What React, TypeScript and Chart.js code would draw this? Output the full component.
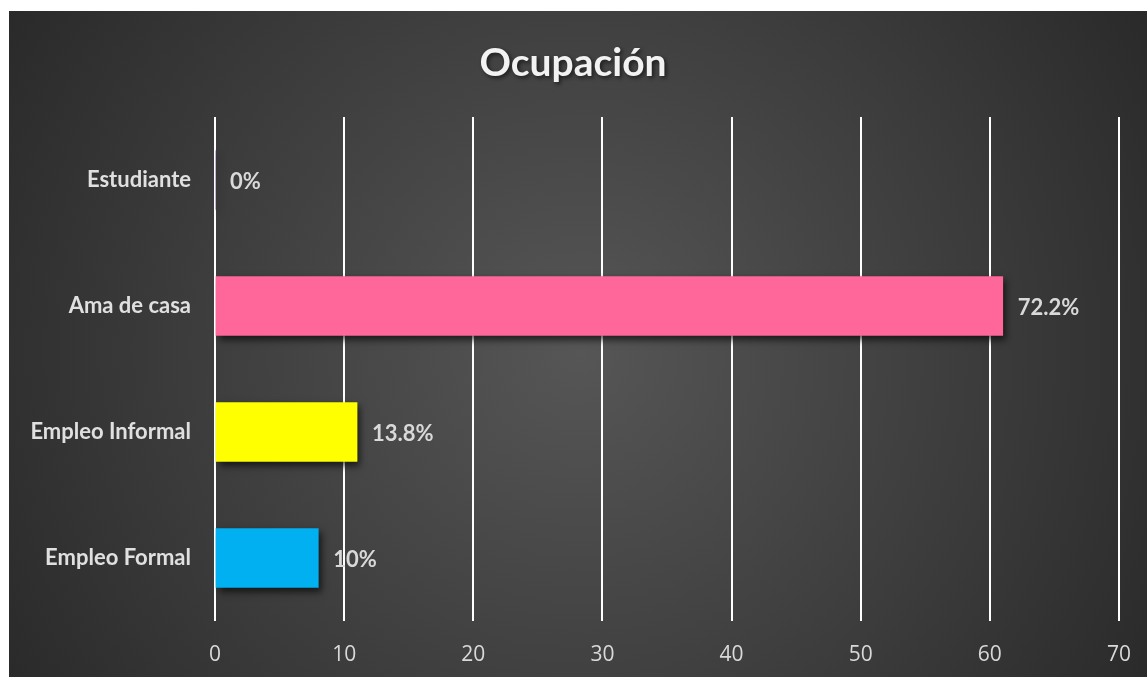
import React, { useEffect, useRef } from "react";
import { Chart, registerables } from "chart.js";

Chart.register(...registerables);

const categories = ["Estudiante", "Ama de casa", "Empleo Informal", "Empleo Formal"];
const values = [0, 61, 11, 8];
const valueLabels = ["0%", "72.2%", "13.8%", "10%"];
const barColors = ["#7030A0", "#FF6699", "#FFFF00", "#00B0F0"];
const xTicks = [0, 10, 20, 30, 40, 50, 60, 70];
const titleText = "Ocupación";

const W = 1138;
const H = 666;
const LABEL_FONT = "Lato";
const TICK_FONT = "Open Sans";

const bgPlugin = {
  id: "bg",
  beforeDraw(chart: any) {
    const { ctx } = chart;
    ctx.save();
    const g = ctx.createRadialGradient(570, 340, 0, 570, 340, 720);
    g.addColorStop(0, "#565656");
    g.addColorStop(0.55, "#3c3c3c");
    g.addColorStop(1, "#262626");
    ctx.fillStyle = g;
    ctx.fillRect(0, 0, chart.width, chart.height);
    // title
    ctx.font = `bold 39px ${LABEL_FONT}`;
    ctx.textAlign = "center";
    ctx.textBaseline = "middle";
    ctx.shadowColor = "rgba(0,0,0,0.6)";
    ctx.shadowBlur = 4;
    ctx.shadowOffsetX = 2;
    ctx.shadowOffsetY = 2;
    ctx.fillStyle = "#f2f2f2";
    ctx.fillText(titleText, 564, 52);
    ctx.restore();
  },
};

const shadowPlugin = {
  id: "barShadow",
  beforeDatasetDraw(chart: any) {
    const { ctx } = chart;
    ctx.save();
    ctx.shadowColor = "rgba(0,0,0,0.65)";
    ctx.shadowBlur = 7;
    ctx.shadowOffsetX = 3;
    ctx.shadowOffsetY = 4;
  },
  afterDatasetDraw(chart: any) {
    chart.ctx.restore();
  },
};

const labelPlugin = {
  id: "valueLabels",
  afterDatasetsDraw(chart: any) {
    const { ctx } = chart;
    const meta = chart.getDatasetMeta(0);
    ctx.save();
    ctx.font = `bold 22px ${LABEL_FONT}`;
    ctx.fillStyle = "#d9d9d9";
    ctx.textAlign = "left";
    ctx.textBaseline = "middle";
    meta.data.forEach((el: any, i: number) => {
      ctx.fillText(valueLabels[i], el.x + 15, el.y + 2);
    });
    ctx.restore();
  },
};

export default function App() {
  const ref = useRef<HTMLCanvasElement>(null);
  useEffect(() => {
    if (!ref.current) return;
    const chart = new Chart(ref.current, {
      type: "bar",
      data: {
        labels: categories,
        datasets: [
          {
            data: values,
            backgroundColor: barColors,
            borderWidth: 0,
            barThickness: 59,
          },
        ],
      },
      options: {
        indexAxis: "y",
        responsive: false,
        animation: false,
        layout: { padding: { top: 106, right: 28, left: 0, bottom: 0 } },
        plugins: {
          legend: { display: false },
          title: { display: false },
          tooltip: { enabled: false },
        },
        scales: {
          x: {
            min: 0,
            max: 70,
            afterFit(scale: any) {
              scale.height = 56;
              scale.paddingRight = 0;
              scale.paddingLeft = 0;
            },
            afterBuildTicks(scale: any) {
              scale.ticks = xTicks.map((v) => ({ value: v }));
            },
            grid: { color: "#ffffff", lineWidth: 2, drawTicks: false },
            border: { display: false },
            ticks: {
              color: "#d9d9d9",
              padding: 21,
              font: { family: TICK_FONT, size: 21 },
            },
          },
          y: {
            afterFit(scale: any) {
              scale.width = 206;
            },
            grid: { display: false },
            border: { display: false },
            ticks: {
              color: "#e0e0e0",
              padding: 16,
              font: { family: LABEL_FONT, size: 22, weight: "bold" },
            },
          },
        },
      },
      plugins: [bgPlugin, shadowPlugin, labelPlugin],
    });
    return () => chart.destroy();
  }, []);
  return (
    <div style={{ position: "absolute", left: 9, top: 11, width: W, height: H }}>
      <canvas ref={ref} width={W} height={H} style={{ display: "block" }} />
    </div>
  );
}
